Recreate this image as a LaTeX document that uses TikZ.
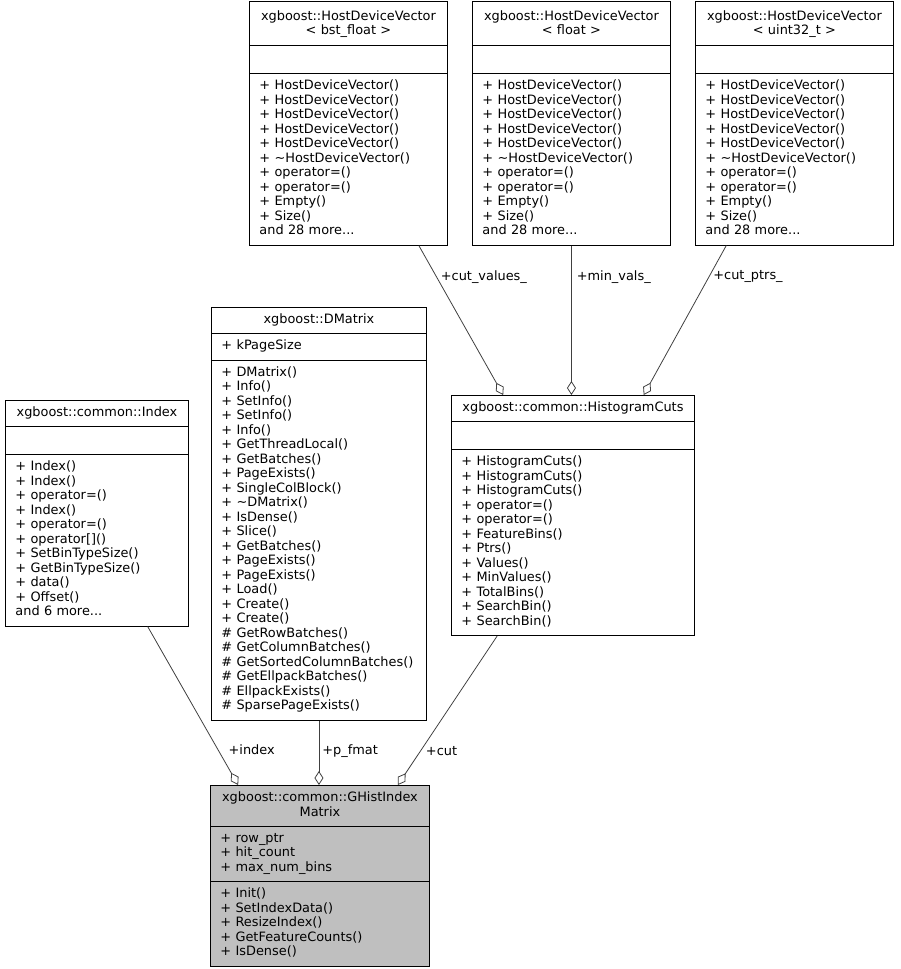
\documentclass[tikz,border=0pt]{standalone}
\usepackage{fontspec}
\setmainfont{DejaVu Sans}
\usetikzlibrary{shapes.multipart}
\usetikzlibrary{arrows.meta}
\usetikzlibrary{calc}

\definecolor{edgegray}{HTML}{404040}
\definecolor{boxgray}{HTML}{BFBFBF}
\newcommand{\clsfont}{\fontsize{12.9}{14.5}\selectfont}
\newcommand{\emptypart}{\rule[-4.5pt]{0pt}{16pt}}
\newcommand{\hdvmembers}{\strut + HostDeviceVector()\\ + HostDeviceVector()\\ + HostDeviceVector()\\
  + HostDeviceVector()\\ + HostDeviceVector()\\ + \textasciitilde HostDeviceVector()\\
  + operator=()\\ + operator=()\\ + Empty()\\ + Size()\\ and 28 more...\strut}

\begin{document}
\begin{tikzpicture}[x=1pt, y=-1pt,
    cls/.style={rectangle split, rectangle split parts=3, rectangle split draw splits,
      draw=black, line width=0.9pt, fill=white, anchor=north west, align=left,
      inner xsep=10pt, inner ysep=5.5pt, font=\clsfont, text width=#1},
    agg/.style={draw=edgegray, line width=0.8pt, -{Diamond[open, length=14pt, width=9pt]}},
    lbl/.style={inner sep=0pt, anchor=west, font=\clsfont, text=black}]
  \useasboundingbox (0,0) rectangle (900,969);

  % members of the HostDeviceVector instances
  \node[cls=178pt] (hdvbst) at (249,1) {{\centering\rule{0pt}{13pt}xgboost::HostDeviceVector\\ < bst\_float >\rule[-5pt]{0pt}{5pt}\par}
    \nodepart{two}\emptypart
    \nodepart{three}\hdvmembers};
  \node[cls=178pt] (hdvfloat) at (472,1) {{\centering\rule{0pt}{13pt}xgboost::HostDeviceVector\\ < float >\rule[-5pt]{0pt}{5pt}\par}
    \nodepart{two}\emptypart
    \nodepart{three}\hdvmembers};
  \node[cls=178pt] (hdvuint) at (695,1) {{\centering\rule{0pt}{13pt}xgboost::HostDeviceVector\\ < uint32\_t >\rule[-5pt]{0pt}{5pt}\par}
    \nodepart{two}\emptypart
    \nodepart{three}\hdvmembers};

  \node[cls=163pt] (index) at (5,400) {{\centering\strut xgboost::common::Index\par}
    \nodepart{two}\emptypart
    \nodepart{three}\strut + Index()\\ + Index()\\ + operator=()\\ + Index()\\ + operator=()\\
      + operator[]()\\ + SetBinTypeSize()\\ + GetBinTypeSize()\\ + data()\\ + Offset()\\ and 6 more...\strut};

  \node[cls=195pt] (dmatrix) at (211,307) {{\centering\strut xgboost::DMatrix\par}
    \nodepart{two}\strut + kPageSize
    \nodepart{three}\strut + DMatrix()\\ + Info()\\ + SetInfo()\\ + SetInfo()\\ + Info()\\
      + GetThreadLocal()\\ + GetBatches()\\ + PageExists()\\ + SingleColBlock()\\
      + \textasciitilde DMatrix()\\ + IsDense()\\ + Slice()\\ + GetBatches()\\ + PageExists()\\
      + PageExists()\\ + Load()\\ + Create()\\ + Create()\\ \# GetRowBatches()\\
      \# GetColumnBatches()\\ \# GetSortedColumnBatches()\\ \# GetEllpackBatches()\\
      \# EllpackExists()\\ \# SparsePageExists()\strut};

  \node[cls=223pt] (hcuts) at (451,395) {{\centering\strut xgboost::common::HistogramCuts\par}
    \nodepart{two}\emptypart
    \nodepart{three}\strut + HistogramCuts()\\ + HistogramCuts()\\ + HistogramCuts()\\
      + operator=()\\ + operator=()\\ + FeatureBins()\\ + Ptrs()\\ + Values()\\
      + MinValues()\\ + TotalBins()\\ + SearchBin()\\ + SearchBin()\strut};

  \node[cls=199pt, fill=boxgray] (ghim) at (210,785) {{\centering\strut xgboost::common::GHistIndex\\ Matrix\strut\par}
    \nodepart{two}\strut + row\_ptr\\ + hit\_count\\ + max\_num\_bins\strut
    \nodepart{three}\strut + Init()\\ + SetIndexData()\\ + ResizeIndex()\\
      + GetFeatureCounts()\\ + IsDense()\strut};

  % aggregation edges
  \draw[agg] ($(hdvbst.south west)!0.854!(hdvbst.south east)$) -- ($(hcuts.north west)!0.214!(hcuts.north east)$)
    node[lbl, pos=0.209, xshift=4pt] {+cut\_values\_};
  \draw[agg] (hdvfloat.south) -- (hdvfloat.south |- hcuts.north)
    node[lbl, pos=0.209, xshift=5pt] {+min\_vals\_};
  \draw[agg] ($(hdvuint.south west)!0.157!(hdvuint.south east)$) -- ($(hcuts.north west)!0.79!(hcuts.north east)$)
    node[lbl, pos=0.209, xshift=4pt] {+cut\_ptrs\_};

  \draw[agg] ($(index.south west)!0.776!(index.south east)$) -- ($(ghim.north west)!0.128!(ghim.north east)$)
    node[lbl, pos=0.78, xshift=10pt] {+index};
  \draw[agg] (dmatrix.south) -- (dmatrix.south |- ghim.north)
    node[lbl, pos=0.47, xshift=3pt] {+p\_fmat};
  \draw[agg] ($(hcuts.south west)!0.189!(hcuts.south east)$) -- ($(ghim.north west)!0.854!(ghim.north east)$)
    node[lbl, pos=0.771, xshift=5pt] {+cut};
\end{tikzpicture}
\end{document}
